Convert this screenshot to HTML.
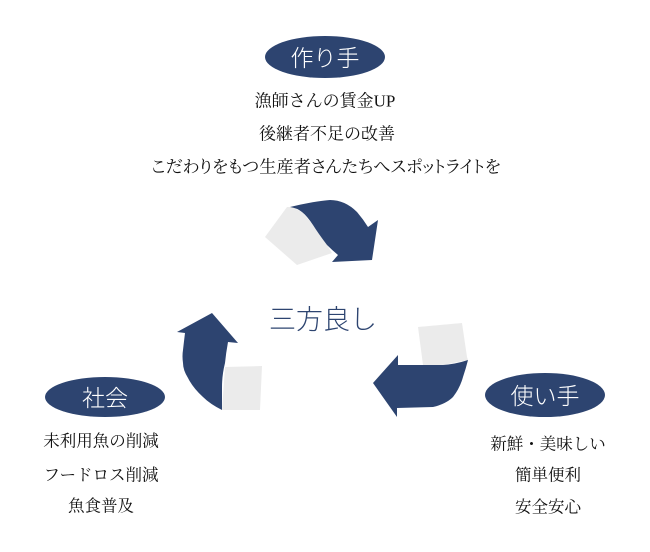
<!DOCTYPE html>
<html><head><meta charset="utf-8"><style>
html,body{margin:0;padding:0;background:#fff;}
svg{display:block;}
.t{font-family:"Liberation Serif","Noto Serif CJK JP","Noto Serif CJK SC",serif;fill:#111;}
.p{font-feature-settings:"palt";}
.h{font-family:"Liberation Sans","Noto Sans CJK JP",sans-serif;font-weight:300;}
</style></head><body>
<svg width="650" height="552" viewBox="0 0 650 552" xmlns="http://www.w3.org/2000/svg">
<rect width="650" height="552" fill="#fff"/>
<!-- top ellipse -->
<ellipse cx="325" cy="57" rx="60" ry="21" fill="#2d4470"/>
<text x="325" y="58" class="h" font-size="23" fill="#fff" text-anchor="middle" dominant-baseline="central">作り手</text>
<text x="325" y="101" class="t" font-size="17" text-anchor="middle" dominant-baseline="central">漁師さんの賃金UP</text>
<text x="327" y="134" class="t" font-size="17" text-anchor="middle" dominant-baseline="central">後継者不足の改善</text>
<text x="326" y="167" class="t p" font-size="17" text-anchor="middle" dominant-baseline="central" textLength="350" lengthAdjust="spacingAndGlyphs">こだわりをもつ生産者さんたちへスポットライトを</text>

<!-- top arrow -->
<polygon points="265,237 287,207 292,207 302,212 313,225 327,245 332,253 297,265" fill="#ebebeb"/>
<path d="M290,207 Q315,201 330,200 Q345,200 357,212 Q363,219 368,227 L378,220 L372,260 L332,262 L338,255 Q332,250 327,245 Q318,233 313,225 Q307,216 302,212 Q297,208 290,207 Z" fill="#2d4470"/>

<!-- center -->
<text x="323" y="320" class="h" font-size="27" fill="#2d4470" text-anchor="middle" dominant-baseline="central">三方良し</text>

<!-- left arrow -->
<polygon points="225,367 262,366 260,410 222,410" fill="#ebebeb"/>
<path d="M212,313 L238,343 L228,342 Q226,353 225,363 Q222,375 222,387 L222,410 Q210,404 203,397 Q193,388 188,378 Q183,370 183,363 Q182,356 183,350 Q184,341 185,333 L177,332 Z" fill="#2d4470"/>

<!-- right arrow -->
<polygon points="418,327 462,323 467,357 468,360 443,365 423,365" fill="#ebebeb"/>
<path d="M398,355 L373,383 L397,417 L397,408 L433,407 Q446,404 453,397 Q460,388 463,377 Q466,368 468,360 Q456,364 443,365 L398,365 Z" fill="#2d4470"/>

<!-- left ellipse -->
<ellipse cx="105" cy="397" rx="60" ry="20" fill="#2d4470"/>
<text x="105" y="398" class="h" font-size="23" fill="#fff" text-anchor="middle" dominant-baseline="central">社会</text>
<text x="101" y="441" class="t" font-size="16.5" text-anchor="middle" dominant-baseline="central">未利用魚の削減</text>
<text x="101" y="475" class="t" font-size="16.5" text-anchor="middle" dominant-baseline="central">フードロス削減</text>
<text x="101" y="506" class="t" font-size="16.5" text-anchor="middle" dominant-baseline="central">魚食普及</text>

<!-- right ellipse -->
<ellipse cx="545" cy="395" rx="60" ry="22" fill="#2d4470"/>
<text x="545" y="396" class="h" font-size="23" fill="#fff" text-anchor="middle" dominant-baseline="central">使い手</text>
<text x="548" y="444" class="t" font-size="16.5" text-anchor="middle" dominant-baseline="central">新鮮・美味しい</text>
<text x="548" y="475" class="t" font-size="16.5" text-anchor="middle" dominant-baseline="central">簡単便利</text>
<text x="548" y="507" class="t" font-size="16.5" text-anchor="middle" dominant-baseline="central">安全安心</text>
</svg>
</body></html>
